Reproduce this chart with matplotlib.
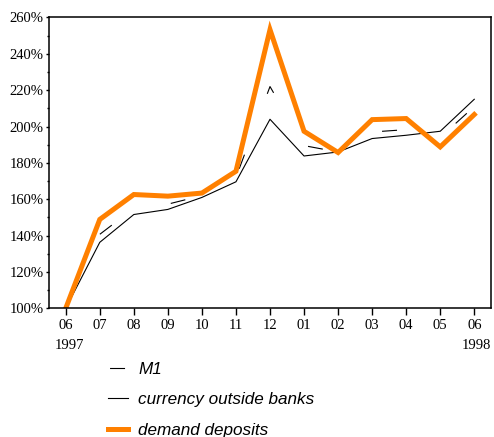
import matplotlib
matplotlib.use("Agg")
import matplotlib.pyplot as plt

# Monthly index, June 1997 = 100%
months = ["06", "07", "08", "09", "10", "11", "12", "01", "02", "03", "04", "05", "06"]
m1 = [100, 140.7, 155, 157.3, 162, 172, 222, 189.5, 186, 197, 198.3, 194, 211]
currency = [100, 136.3, 151.6, 154.4, 161, 169.6, 204, 183.8, 186, 193.4, 195.2, 197.4, 215]
deposits = [100, 148.9, 162.6, 161.7, 163.4, 175.4, 253.3, 197.4, 185.7, 203.8, 204.4, 188.8, 206.6]
y_ticks = [100, 120, 140, 160, 180, 200, 220, 240, 260]
years = ["1997", "1998"]

orange = "#FF8000"
serif = ["Liberation Serif", "DejaVu Serif"]

fig = plt.figure(figsize=(4.94, 4.37), dpi=100)
ax = fig.add_axes([0.0986, 0.2945, 0.8959, 0.6655])

x = list(range(len(months)))
ax.plot(x, m1, color="black", lw=0.8, linestyle=(70.6, (13.5, 58.5)), label="M1")
ax.plot(x, currency, color="black", lw=0.8, label="currency outside banks")
ax.plot(x, deposits, color=orange, lw=3.6, solid_joinstyle="miter",
        label="demand deposits")

ax.set_xlim(-0.5, 12.5)
ax.set_ylim(100, 260)
ax.set_xticks(x)
ax.set_xticklabels(months, family=serif, fontsize=10.5)
ax.set_yticks(y_ticks)
ax.set_yticklabels([f"{v}%" for v in y_ticks], family=serif, fontsize=10.5)
ax.set_yticks([v + 10 for v in y_ticks[:-1]], minor=True)
ax.tick_params(axis="x", direction="out", length=5, width=1, pad=3, colors="black")
ax.tick_params(axis="y", which="major", direction="out", length=2.5, width=1, pad=1)
ax.tick_params(axis="y", which="minor", direction="out", length=1.5, width=1)
for s in ax.spines.values():
    s.set_linewidth(1.1)

ax.annotate(years[0], xy=(0, 0), xycoords=("data", "axes fraction"),
            xytext=(3, -22), textcoords="offset points", ha="center", va="top",
            family=serif, fontsize=10.5)
ax.annotate(years[1], xy=(12, 0), xycoords=("data", "axes fraction"),
            xytext=(1.5, -22), textcoords="offset points", ha="center", va="top",
            family=serif, fontsize=10.5)

leg = fig.legend(loc="upper left", bbox_to_anchor=(0.2186, 0.171), frameon=False,
                 prop={"family": ["Liberation Sans", "DejaVu Sans"], "style": "italic", "size": 12.3},
                 handlelength=1.17, handletextpad=0.59, labelspacing=0.89,
                 borderpad=0, borderaxespad=0)

fig.savefig("out.png", dpi=100)
